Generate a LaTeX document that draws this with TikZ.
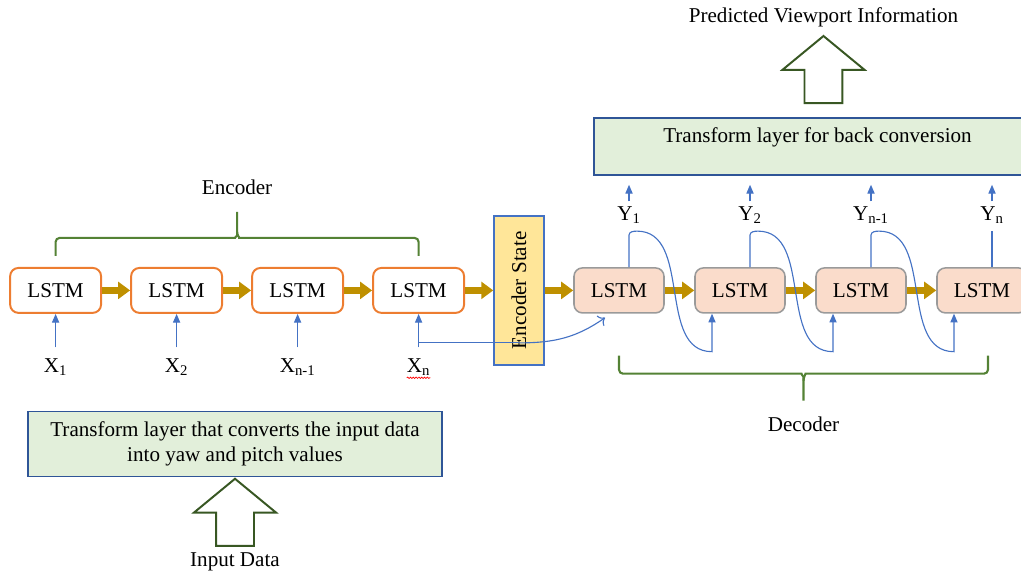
\documentclass[tikz,border=0pt]{standalone}
\usepackage{fontspec}
\setmainfont{Liberation Serif}
\usetikzlibrary{positioning, arrows.meta, shapes.arrows, calc, decorations.pathmorphing}

\definecolor{cellorange}{HTML}{ED7D31}
\definecolor{cellpeach}{HTML}{FADCCB}
\definecolor{cellgray}{HTML}{9A9A9A}
\definecolor{passgold}{HTML}{BF9000}
\definecolor{wireblue}{HTML}{4472C4}
\definecolor{layerfill}{HTML}{E2EFDA}
\definecolor{layerblue}{HTML}{2F5597}
\definecolor{statefill}{HTML}{FFE699}
\definecolor{bracegreen}{HTML}{548235}
\definecolor{hollowgreen}{HTML}{385723}

\tikzset{
    node distance=3.025cm, % spacing between neighbouring LSTM cells
    every node/.style={font=\fontsize{15}{18}\selectfont},
    enc/.style={draw=cellorange, line width=1.4pt, fill=white, rounded corners=6pt,
        minimum width=2.275cm, minimum height=1.125cm}, % encoder cell
    dec/.style={draw=cellgray, line width=1.1pt, fill=cellpeach, rounded corners=6pt,
        minimum width=2.25cm, minimum height=1.125cm}, % decoder cell
    encstate/.style={draw=wireblue, line width=1pt, fill=statefill,
        minimum width=3.725cm, minimum height=1.25cm},
    layer/.style={draw=layerblue, line width=1.4pt, fill=layerfill},
    pass/.style={draw=passgold, line width=5.5pt, -{Triangle[length=0.3cm,width=0.42cm]}}, % hidden state
    feed/.style={draw=wireblue, line width=0.8pt},
    upin/.style={feed, -{Triangle[length=0.22cm,width=0.18cm]}},
    brace/.style={draw=bracegreen, line width=1.5pt, rounded corners=0.1cm},
    hollow/.style={single arrow, draw=hollowgreen, line width=1.4pt, fill=white, rotate=90,
        minimum height=1.675cm, minimum width=2cm, single arrow head extend=0.55cm,
        single arrow tip angle=101, inner xsep=0pt, inner ysep=0.45cm},
    squig/.style={draw=red, line width=0.5pt, decorate,
        decoration={snake, amplitude=0.5pt, segment length=2pt}},
}

\begin{document}
\begin{tikzpicture}
\useasboundingbox (0,0) rectangle (25.525,-14.375);

% encoder
\node[enc] (e1) at (1.39,-7.26) {LSTM};
\node[enc, right of=e1] (e2) {LSTM};
\node[enc, right of=e2] (e3) {LSTM};
\node[enc, right of=e3] (e4) {LSTM};
\node[encstate, rotate=90] (es) at (12.975,-7.26) {Encoder State};

% decoder
\node[dec] (d1) at (15.475,-7.26) {LSTM};
\node[dec, right of=d1] (d2) {LSTM};
\node[dec, right of=d2] (d3) {LSTM};
\node[dec, right of=d3] (d4) {LSTM};

% inputs and outputs
\node[below of=e1, node distance=1.91cm] (x1) {X\textsubscript{1}};
\node[below of=e2, node distance=1.91cm] (x2) {X\textsubscript{2}};
\node[below of=e3, node distance=1.91cm] (x3) {X\textsubscript{n-1}};
\node[below of=e4, node distance=1.91cm] (x4) {X\textsubscript{n}};
\node[above of=d1, node distance=1.89cm, xshift=0.25cm] (y1) {Y\textsubscript{1}};
\node[above of=d2, node distance=1.89cm, xshift=0.25cm] (y2) {Y\textsubscript{2}};
\node[above of=d3, node distance=1.89cm, xshift=0.25cm] (y3) {Y\textsubscript{n-1}};
\node[above of=d4, node distance=1.89cm, xshift=0.25cm] (y4) {Y\textsubscript{n}};
\draw[squig] ($(x4.base west)+(0.12,-0.14)$) -- ($(x4.base east)+(-0.12,-0.14)$);

% transform layers
\node[layer, anchor=north west, minimum width=11.175cm, minimum height=1.425cm,
    text height=11pt, text depth=16.1pt] (tl) at (14.825,-2.925) {Transform layer for back conversion};
\node[layer, minimum width=10.35cm, minimum height=1.625cm, align=center] (tb) at (5.875,-11.1)
    {Transform layer that converts the input data\\into yaw and pitch values};
\node[hollow, anchor=tip] (ain) at (tb.south) {};
\node[below=0.02cm of ain.tail] (indata) {Input Data};
\node[hollow, anchor=tail] (aout) at ([xshift=0.15cm,yshift=0.325cm]tl.north) {};
\node[above=0.08cm of aout.tip] (pred) {Predicted Viewport Information};

% hidden state passing
\foreach \a/\b in {e1/e2, e2/e3, e3/e4, e4/es, es/d1, d1/d2, d2/d3, d3/d4}
    \draw[pass] (\a) -- (\b);

% input arrows
\foreach \i in {1,...,4}
    \draw[upin, shorten <=0.15cm] (x\i) -- (e\i);
\coordinate (tap) at ([yshift=-0.725cm]e4.south);
\draw[feed] (tap) -- (tap -| es.west);
\draw[feed, -{To[length=0.15cm]}] (tap -| es.east) to[out=0,in=215] ([xshift=-0.35cm,yshift=-0.1cm]d1.south);

% outputs fed back into the next cell
\foreach \a/\b in {d1/d2, d2/d3, d3/d4}
    \draw[upin] ([xshift=0.25cm]\a.north) -- ++(0,0.8) to[out=90,in=180] ++(0.2,0.1)
        to[out=0,in=180] ([xshift=-0.7cm,yshift=-0.95cm]\b.south) -- ([xshift=-0.7cm]\b.south);
\draw[feed] ([xshift=0.25cm]d4.north) -- ++(0,0.9);
\foreach \i in {1,...,4}
    \draw[upin, shorten >=0.22cm] (y\i) -- (y\i |- tl.south);

% braces
\coordinate (eL) at ([yshift=0.275cm]e1.north);
\coordinate (eR) at ([yshift=0.275cm]e4.north);
\coordinate (etip) at ($(eL)!0.5!(eR)+(0,1.1)$);
\draw[brace] (eL) -- ++(0,0.45) -- ($(etip)+(-0.15,-0.65)$) to[out=0,in=-90] ($(etip)+(0,-0.5)$) -- (etip);
\draw[brace] (eR) -- ++(0,0.45) -- ($(etip)+(0.15,-0.65)$) to[out=180,in=-90] ($(etip)+(0,-0.5)$);
\node[above=0.3cm of etip] (enclbl) {Encoder};

\coordinate (dL) at ([yshift=-1.05cm]d1.south);
\coordinate (dR) at ([xshift=0.15cm,yshift=-1.05cm]d4.south);
\coordinate (dtip) at ($(dL)!0.5!(dR)+(0,-1.125)$);
\draw[brace] (dL) -- ++(0,-0.45) -- ($(dtip)+(-0.15,0.675)$) to[out=0,in=90] ($(dtip)+(0,0.5)$) -- (dtip);
\draw[brace] (dR) -- ++(0,-0.45) -- ($(dtip)+(0.15,0.675)$) to[out=180,in=90] ($(dtip)+(0,0.5)$);
\node[below=0.275cm of dtip] (declbl) {Decoder};
\end{tikzpicture}
\end{document}
